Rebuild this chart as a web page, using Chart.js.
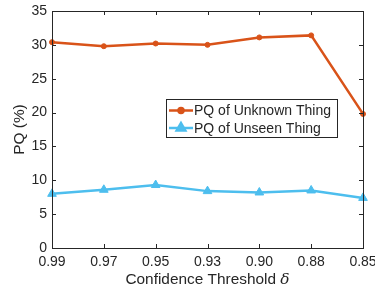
<!DOCTYPE html>
<html lang="en">
<head>
    <meta charset="UTF-8">
    <title>PQ vs Confidence Threshold</title>
    <script src="https://cdn.jsdelivr.net/npm/chart.js"></script>
    <style>
        body { margin: 0; background: #ffffff; }
        #wrap { width: 375px; height: 288px; position: relative; }
    </style>
</head>
<body>
    <div id="wrap"><canvas id="pqChart"></canvas></div>

    <script>
        // Data
        const thresholds = ['0.99', '0.97', '0.95', '0.93', '0.90', '0.88', '0.85'];
        const pqUnknown = [30.4, 29.8, 30.2, 30.0, 31.1, 31.4, 19.8];
        const pqUnseen = [8.0, 8.6, 9.3, 8.4, 8.2, 8.5, 7.4];
        const yTicks = [0, 5, 10, 15, 20, 25, 30, 35];

        const seriesNames = ['PQ of Unknown Thing', 'PQ of Unseen Thing'];
        const orange = '#D95319';
        const blue = '#4DBEEE';
        const ink = '#262626';
        const fontFamily = '"Liberation Sans", Arial, Helvetica, sans-serif';
        const titleSize = 15.4;

        // box, inward ticks, axis titles and legend in MATLAB style
        const matlabFrame = {
            id: 'matlabFrame',
            afterDraw(chart) {
                const c = chart.ctx;
                const a = chart.chartArea;
                const xs = chart.scales.x;
                const ys = chart.scales.y;
                const tick = 4;
                c.save();
                c.strokeStyle = ink;
                c.lineWidth = 1;
                c.strokeRect(Math.round(a.left) + 0.5, Math.round(a.top) + 0.5,
                    Math.round(a.right - a.left), Math.round(a.bottom - a.top));
                c.beginPath();
                thresholds.forEach((t, i) => {
                    const x = Math.round(xs.getPixelForValue(i)) + 0.5;
                    c.moveTo(x, a.bottom); c.lineTo(x, a.bottom - tick);
                    c.moveTo(x, a.top); c.lineTo(x, a.top + tick);
                });
                yTicks.forEach(v => {
                    const y = Math.round(ys.getPixelForValue(v)) + 0.5;
                    c.moveTo(a.left, y); c.lineTo(a.left + tick, y);
                    c.moveTo(a.right, y); c.lineTo(a.right - tick, y);
                });
                c.stroke();

                // x title with italic delta
                c.fillStyle = ink;
                c.textBaseline = 'middle';
                const main = 'Confidence Threshold ';
                c.font = titleSize + 'px ' + fontFamily;
                const w1 = c.measureText(main).width;
                c.font = 'italic ' + titleSize + 'px "DejaVu Serif", serif';
                const w2 = c.measureText('δ').width;
                const cx = (a.left + a.right) / 2;
                let x0 = cx - (w1 + w2) / 2;
                c.font = titleSize + 'px ' + fontFamily;
                c.textAlign = 'left';
                c.fillText(main, x0, 280);
                c.font = 'italic ' + titleSize + 'px "DejaVu Serif", serif';
                c.fillText('δ', x0 + w1, 280);

                // y title
                c.save();
                c.translate(20, (a.top + a.bottom) / 2);
                c.rotate(-Math.PI / 2);
                c.textAlign = 'center';
                c.font = titleSize + 'px ' + fontFamily;
                c.fillText('PQ (%)', 0, 0);
                c.restore();

                // legend
                const lx = 166, ly = 99, lw = 171, lh = 38;
                c.fillStyle = '#ffffff';
                c.fillRect(lx, ly, lw, lh);
                c.strokeStyle = ink;
                c.strokeRect(lx + 0.5, ly + 0.5, lw, lh);
                const rows = [
                    { y: 110.5, color: orange, style: 'circle', r: 2.5 },
                    { y: 128, color: blue, style: 'triangle', r: 5 }
                ];
                rows.forEach((row, i) => {
                    c.strokeStyle = row.color;
                    c.lineWidth = 2.5;
                    c.beginPath();
                    c.moveTo(169, row.y); c.lineTo(193, row.y);
                    c.stroke();
                    c.fillStyle = row.color;
                    Chart.helpers.drawPoint(c, { pointStyle: row.style, radius: row.r, borderWidth: 1 }, 181, row.y);
                    c.fill();
                    c.fillStyle = ink;
                    c.font = '14px ' + fontFamily;
                    c.textAlign = 'left';
                    c.textBaseline = 'middle';
                    c.fillText(seriesNames[i], 194, row.y + 1);
                });
                c.restore();
            }
        };

        new Chart(document.getElementById('pqChart'), {
            type: 'line',
            data: {
                labels: thresholds,
                datasets: [
                    {
                        label: seriesNames[0],
                        data: pqUnknown,
                        borderColor: orange,
                        backgroundColor: orange,
                        borderWidth: 2.5,
                        pointStyle: 'circle',
                        pointRadius: 2.5,
                        pointBorderWidth: 1,
                        tension: 0
                    },
                    {
                        label: seriesNames[1],
                        data: pqUnseen,
                        borderColor: blue,
                        backgroundColor: blue,
                        borderWidth: 2.5,
                        pointStyle: 'triangle',
                        pointRadius: 5,
                        pointBorderWidth: 1,
                        tension: 0
                    }
                ]
            },
            options: {
                responsive: true,
                maintainAspectRatio: false,
                animation: false,
                layout: { padding: { left: 0, right: 12, top: 11, bottom: 0 } },
                plugins: {
                    legend: { display: false },
                    tooltip: { enabled: false }
                },
                scales: {
                    x: {
                        type: 'category',
                        offset: false,
                        grid: { display: false, drawTicks: false },
                        border: { display: false },
                        ticks: {
                            color: ink,
                            padding: 6,
                            maxRotation: 0,
                            autoSkip: false,
                            font: { family: fontFamily, size: 14 }
                        },
                        afterFit(scale) {
                            scale.height = 40;
                            scale.paddingLeft = 0;
                            scale.paddingRight = 0;
                        }
                    },
                    y: {
                        min: 0,
                        max: 35,
                        grid: { display: false, drawTicks: false },
                        border: { display: false },
                        ticks: {
                            stepSize: 5,
                            color: ink,
                            padding: 5,
                            font: { family: fontFamily, size: 14 }
                        },
                        afterFit(scale) {
                            scale.width = 52;
                            scale.paddingTop = 0;
                            scale.paddingBottom = 0;
                        }
                    }
                }
            },
            plugins: [matlabFrame]
        });
    </script>
</body>
</html>
